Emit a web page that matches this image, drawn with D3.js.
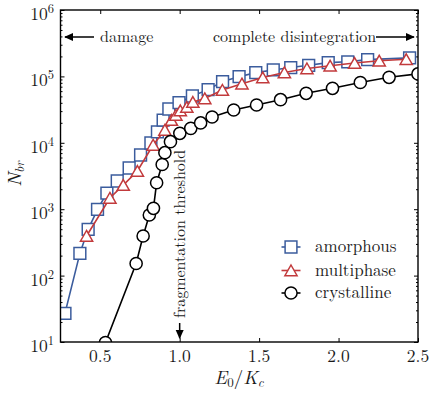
<!DOCTYPE html>
<html>
<head>
<meta charset="utf-8">
<script src="https://cdn.jsdelivr.net/npm/d3@7"></script>
<style>
  html, body { margin: 0; padding: 0; background: #fff; }
  svg { display: block; }
</style>
</head>
<body>
<div id="chart"></div>
<script>
// ---- data ----
const amorphousX = [0.278, 0.372, 0.424, 0.483, 0.542, 0.607, 0.682, 0.754, 0.819, 0.86, 0.896, 0.932, 0.996,
  1.08, 1.179, 1.27, 1.374, 1.479, 1.589, 1.699, 1.812, 1.935, 2.058, 2.183, 2.447];
const amorphousY = [27, 216, 497, 995, 1750, 2660, 4170, 6550, 9930, 14600, 22000, 32300, 40200,
  50700, 63200, 83600, 98900, 114000, 125000, 136000, 147000, 161000, 166000, 179000, 190000];

const multiphaseX = [0.414, 0.561, 0.645, 0.734, 0.833, 0.907, 0.948, 0.976, 1.004, 1.045, 1.083, 1.158,
  1.269, 1.392, 1.523, 1.659, 1.801, 1.947, 2.101, 2.256, 2.426];
const multiphaseY = [395, 1475, 2310, 3760, 9270, 15600, 22000, 26200, 30600, 34600, 41100, 46500,
  62400, 77600, 96200, 114500, 131500, 144500, 159000, 172000, 181000];

const crystallineX = [0.533, 0.726, 0.77, 0.809, 0.835, 0.855, 0.89, 0.907, 0.942, 1.001, 1.07, 1.132, 1.204,
  1.34, 1.484, 1.635, 1.796, 1.962, 2.137, 2.318, 2.5];
const crystallineY = [9.8, 152, 395, 818, 1030, 2500, 4710, 7100, 10400, 13900, 16500, 19900, 24500,
  31200, 37100, 44600, 55600, 66200, 80900, 96900, 109000];

const seriesNames = ["amorphous", "multiphase", "crystalline"];
const xTicks = [0.5, 1.0, 1.5, 2.0, 2.5];
const xTickLabels = ["0.5", "1.0", "1.5", "2.0", "2.5"];
const yTicks = [1e1, 1e2, 1e3, 1e4, 1e5, 1e6];
const yTickExponents = ["1", "2", "3", "4", "5", "6"];
const annotations = ["damage", "complete disintegration", "fragmentation threshold"];
const thresholdX = 1.0;

// ---- layout ----
const W = 436, H = 393;
const M = { left: 60.5, right: 418, top: 10, bottom: 342 };
const colors = ["#3b5c9d", "#c23a3c", "#000000"];
const FONT = "'Latin Modern Roman', 'Liberation Serif', 'Times New Roman', monospace";

const svg = d3.select("#chart").append("svg").attr("width", W).attr("height", H);

function T(sel) { return sel.attr("font-family", FONT).attr("fill", "#1a1a1a"); }

const x = d3.scaleLinear().domain([0.25, 2.5]).range([M.left, M.right]);
const y = d3.scaleLog().domain([1e1, 1e6]).range([M.bottom, M.top]);

svg.append("defs").append("clipPath").attr("id", "clip")
  .append("rect").attr("x", M.left).attr("y", M.top)
  .attr("width", M.right - M.left).attr("height", M.bottom - M.top);

// minor log ticks
const minorY = [];
for (let d = 1; d < 6; d++) for (let k = 2; k <= 9; k++) minorY.push(k * Math.pow(10, d));

function styleAxis(g) {
  g.select(".domain").remove();
  g.selectAll(".tick line").attr("stroke", "#000").attr("stroke-width", 1);
}

// major / minor ticks (inward) on all four sides
svg.append("g").attr("transform", `translate(0,${M.bottom})`)
  .call(d3.axisBottom(x).tickValues(xTicks).tickSize(-4).tickFormat("")).call(styleAxis);
svg.append("g").attr("transform", `translate(0,${M.top})`)
  .call(d3.axisTop(x).tickValues(xTicks).tickSize(-4).tickFormat("")).call(styleAxis);
svg.append("g").attr("transform", `translate(${M.left},0)`)
  .call(d3.axisLeft(y).tickValues(yTicks).tickSize(-4).tickFormat("")).call(styleAxis);
svg.append("g").attr("transform", `translate(${M.left},0)`)
  .call(d3.axisLeft(y).tickValues(minorY).tickSize(-2).tickFormat("")).call(styleAxis);
svg.append("g").attr("transform", `translate(${M.right},0)`)
  .call(d3.axisRight(y).tickValues(yTicks).tickSize(-4).tickFormat("")).call(styleAxis);
svg.append("g").attr("transform", `translate(${M.right},0)`)
  .call(d3.axisRight(y).tickValues(minorY).tickSize(-2).tickFormat("")).call(styleAxis);

// tick labels
svg.append("g").selectAll("text").data(xTicks).join("text")
  .attr("x", d => x(d)).attr("y", M.bottom + 19.8)
  .attr("text-anchor", "middle").attr("font-size", 17.5).call(T)
  .text((d, i) => xTickLabels[i]);

const yl = svg.append("g").selectAll("text").data(yTicks).join("text")
  .attr("x", 54).attr("y", d => y(d) + 10)
  .attr("text-anchor", "end").attr("font-size", 17.5).call(T);
yl.append("tspan").text("10");
yl.append("tspan").attr("font-size", 12.5).attr("dy", -7).text((d, i) => yTickExponents[i]);

// axis titles
const xt = svg.append("text").attr("x", 239).attr("y", 384).attr("text-anchor", "middle")
  .attr("font-size", 19).attr("font-style", "italic").call(T);
xt.append("tspan").text("E");
xt.append("tspan").attr("font-size", 13).attr("font-style", "normal").attr("dy", 2.5).text("0");
xt.append("tspan").attr("font-style", "normal").attr("dy", -2.5).text("/");
xt.append("tspan").text("K");
xt.append("tspan").attr("font-size", 13).attr("dy", 2.5).text("c");

const ytl = svg.append("text").attr("transform", "translate(21,174) rotate(-90)")
  .attr("text-anchor", "middle").attr("font-size", 19).attr("font-style", "italic").call(T);
ytl.append("tspan").text("N");
ytl.append("tspan").attr("font-size", 13).attr("dy", 3).text("br");

// series
const seriesX = [amorphousX, multiphaseX, crystallineX];
const seriesY = [amorphousY, multiphaseY, crystallineY];
const markerPath = [
  "M-5.9,-5.9H5.9V5.9H-5.9Z",
  "M0,-5.5L6.1,5.2L-6.1,5.2Z",
  d3.symbol().type(d3.symbolCircle).size(Math.PI * 37)()
];

const plot = svg.append("g").attr("clip-path", "url(#clip)");
const line = d3.line().x(d => x(d[0])).y(d => y(d[1]));
seriesNames.forEach((name, s) => {
  const pts = seriesX[s].map((v, i) => [v, seriesY[s][i]]);
  const g = plot.append("g");
  g.append("path").datum(pts).attr("d", line)
    .attr("fill", "none").attr("stroke", colors[s]).attr("stroke-width", 1.6);
  g.selectAll("path.m").data(pts).join("path").attr("class", "m")
    .attr("transform", d => `translate(${x(d[0])},${y(d[1])})`)
    .attr("d", markerPath[s])
    .attr("fill", "#fff").attr("stroke", colors[s]).attr("stroke-width", 1.5);
});

// frame
svg.append("rect").attr("x", M.left).attr("y", M.top)
  .attr("width", M.right - M.left).attr("height", M.bottom - M.top)
  .attr("fill", "none").attr("stroke", "#000").attr("stroke-width", 1.4);

// annotations
const defs = svg.select("defs");
defs.append("marker").attr("id", "ah").attr("viewBox", "0 0 10 10")
  .attr("refX", 9).attr("refY", 5).attr("markerWidth", 9).attr("markerHeight", 9)
  .attr("markerUnits", "userSpaceOnUse").attr("orient", "auto")
  .append("path").attr("d", "M0,0.5L10,5L0,9.5Z").attr("fill", "#000");

const annY = 37;
svg.append("line").attr("x1", 94).attr("y1", annY).attr("x2", 65).attr("y2", annY)
  .attr("stroke", "#000").attr("stroke-width", 1.5).attr("marker-end", "url(#ah)");
svg.append("text").attr("x", 100).attr("y", annY + 4.8).attr("font-size", 16).call(T).text(annotations[0]);

svg.append("text").attr("x", 213).attr("y", annY + 4.8).attr("font-size", 16).call(T).text(annotations[1]);
svg.append("line").attr("x1", 376).attr("y1", annY).attr("x2", 414).attr("y2", annY)
  .attr("stroke", "#000").attr("stroke-width", 1.5).attr("marker-end", "url(#ah)");

svg.append("text").attr("transform", `translate(${x(thresholdX) + 5},318) rotate(-90)`)
  .attr("font-size", 16).call(T).text(annotations[2]);
svg.append("line").attr("x1", x(thresholdX)).attr("y1", 323).attr("x2", x(thresholdX)).attr("y2", 338)
  .attr("stroke", "#000").attr("stroke-width", 1.5).attr("marker-end", "url(#ah)");

// legend
const legY = [247, 270.5, 293];
const leg = svg.append("g").selectAll("g").data(seriesNames).join("g")
  .attr("transform", (d, i) => `translate(291,${legY[i]})`);
leg.append("line").attr("x1", -9.5).attr("x2", 9.5)
  .attr("stroke", (d, i) => colors[i]).attr("stroke-width", 1.6);
leg.append("path").attr("d", (d, i) => markerPath[i])
  .attr("fill", "#fff").attr("stroke", (d, i) => colors[i]).attr("stroke-width", 1.5);
leg.append("text").attr("x", 24).attr("y", 5.2).attr("font-size", 17).call(T).text(d => d);
</script>
</body>
</html>
